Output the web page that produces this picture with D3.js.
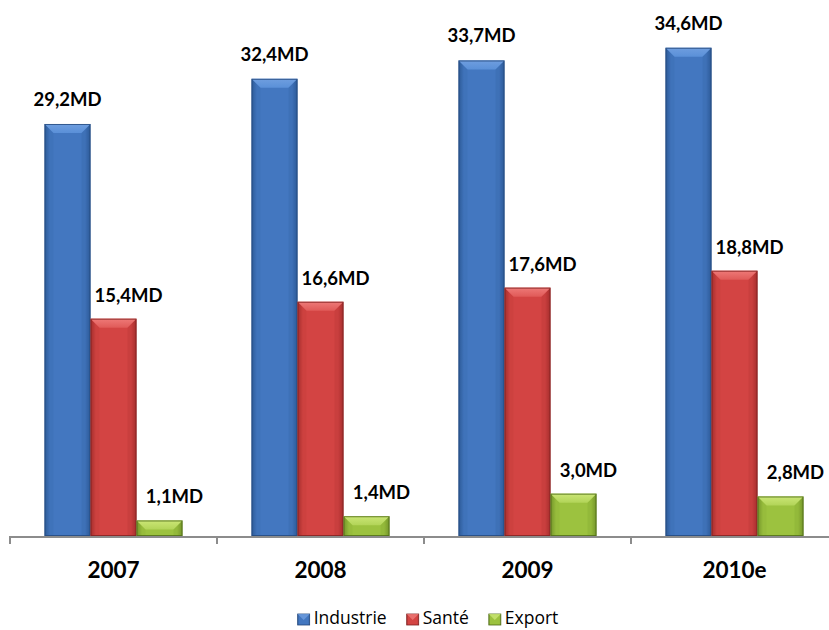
<!DOCTYPE html>
<html><head><meta charset="utf-8">
<script src="https://cdn.jsdelivr.net/npm/d3@7"></script>
<style>
html,body{margin:0;padding:0;background:#fff;}
svg{display:block;}
</style></head>
<body>
<svg id="chart" width="829" height="630"></svg>
<script>
const years = ["2007", "2008", "2009", "2010e"];
const seriesNames = ["Industrie", "Santé", "Export"];
const industrie = [29.2, 32.4, 33.7, 34.6];
const sante = [15.4, 16.6, 17.6, 18.8];
const exportV = [1.1, 1.4, 3.0, 2.8];
const valueLabels = [
  ["29,2MD", "32,4MD", "33,7MD", "34,6MD"],
  ["15,4MD", "16,6MD", "17,6MD", "18,8MD"],
  ["1,1MD", "1,4MD", "3,0MD", "2,8MD"]
];
const seriesValues = [industrie, sante, exportV];

const palette = [
  {base:"#4377C0", light:"#6F9EDF", dark:"#2D5A98", edge:"#24487C", top:"#5A90D8"},
  {base:"#D34443", light:"#EE7A78", dark:"#A52E2D", edge:"#7F2221", top:"#E05A58"},
  {base:"#9CC23F", light:"#CBE676", dark:"#74952A", edge:"#4E6A18", top:"#B2D458"}
];

const svg = d3.select("#chart");
const W = 829, H = 630;
const baseY = 536;

const x0 = d3.scaleBand().domain(years).range([10, 838]).paddingInner(1/3).paddingOuter(1/6);
const x1 = d3.scaleBand().domain(seriesNames).range([0, x0.bandwidth()]);
const y = d3.scaleLinear().domain([0, 38]).range([baseY, baseY - 38 * 14.11]);

const defs = svg.append("defs");
palette.forEach((p, i) => {
  const g = defs.append("linearGradient").attr("id", "side" + i).attr("x1", 0).attr("x2", 1).attr("y1", 0).attr("y2", 0);
  g.append("stop").attr("offset", "0%").attr("stop-color", p.dark);
  g.append("stop").attr("offset", "12%").attr("stop-color", p.base);
  g.append("stop").attr("offset", "50%").attr("stop-color", p.base);
  g.append("stop").attr("offset", "88%").attr("stop-color", p.base);
  g.append("stop").attr("offset", "100%").attr("stop-color", p.dark);
  const t = defs.append("linearGradient").attr("id", "top" + i).attr("x1", 0).attr("x2", 0).attr("y1", 0).attr("y2", 1);
  t.append("stop").attr("offset", "0%").attr("stop-color", p.light);
  t.append("stop").attr("offset", "100%").attr("stop-color", p.top);
});

// axis
const axisG = svg.append("g");
axisG.append("line").attr("x1", 10).attr("x2", W).attr("y1", baseY + 1).attr("y2", baseY + 1)
  .attr("stroke", "#8C8C8C").attr("stroke-width", 2);
const tickXs = years.map(yr => x0(yr) - x0.step() * x0.paddingInner() / 2).concat([x0(years[3]) + x0.bandwidth() + x0.step() * x0.paddingInner() / 2]);
axisG.selectAll("line.tick").data(tickXs).enter().append("line").attr("class", "tick")
  .attr("x1", d => d).attr("x2", d => d).attr("y1", baseY).attr("y2", baseY + 8)
  .attr("stroke", "#8C8C8C").attr("stroke-width", 2);

const bev = 9;
seriesNames.forEach((s, si) => {
  const g = svg.append("g");
  years.forEach((yr, yi) => {
    const v = seriesValues[si][yi];
    const bx = x0(yr) + x1(s), bw = x1.bandwidth();
    const ty = y(v), by = y(0);
    const b = Math.min(bev, (by - ty) * 0.6);
    g.append("rect").attr("x", bx).attr("y", ty).attr("width", bw).attr("height", by - ty)
      .attr("fill", `url(#side${si})`);
    g.append("path").attr("d", `M${bx},${ty}L${bx + bw},${ty}L${bx + bw - b},${ty + b}L${bx + b},${ty + b}Z`)
      .attr("fill", `url(#top${si})`);
    g.append("path").attr("d", `M${bx},${ty}L${bx + b},${ty + b}L${bx + b},${by}L${bx},${by}Z`)
      .attr("fill", palette[si].dark).attr("opacity", 0.12);
    g.append("path").attr("d", `M${bx + bw},${ty}L${bx + bw - b},${ty + b}L${bx + bw - b},${by}L${bx + bw},${by}Z`)
      .attr("fill", palette[si].dark).attr("opacity", 0.2);
    g.append("rect").attr("x", bx + 0.5).attr("y", ty + 0.5).attr("width", bw - 1).attr("height", by - ty - 1)
      .attr("fill", "none").attr("stroke", palette[si].edge).attr("stroke-width", 1).attr("opacity", 0.8);
    const off = si === 0 ? 0 : 15;
    const gap = si === 0 ? 18 : 17;
    svg.append("text").attr("x", bx + bw / 2 + off).attr("y", ty - gap)
      .attr("text-anchor", "middle").attr("font-family", "Lato, sans-serif").attr("font-weight", "bold")
      .attr("font-size", 18.5).attr("fill", "#000").text(valueLabels[si][yi]);
  });
});

// year labels
svg.selectAll("text.year").data(years).enter().append("text").attr("class", "year")
  .attr("x", d => x0(d) + x0.bandwidth() / 2).attr("y", 578)
  .attr("text-anchor", "middle").attr("font-family", "Lato, sans-serif").attr("font-weight", "bold")
  .attr("font-size", 22.5).attr("fill", "#000").text(d => d);

// legend
const leg = svg.append("g");
let lx = 0;
seriesNames.forEach((s, i) => {
  const it = leg.append("g").attr("transform", `translate(${lx},0)`);
  it.append("rect").attr("x", 0).attr("y", 614).attr("width", 12).attr("height", 11).attr("fill", `url(#side${i})`)
    .attr("stroke", palette[i].edge).attr("stroke-width", 0.8);
  it.append("path").attr("d", `M0,614L12,614L6,620Z`).attr("fill", palette[i].light).attr("opacity", 0.8);
  const t = it.append("text").attr("x", 16).attr("y", 624).attr("font-family", "'Open Sans', sans-serif")
    .attr("font-size", 17.5).attr("fill", "#000").text(s);
  const tw = t.node().getComputedTextLength();
  lx += 16 + tw + 20;
});
const legW = lx - 20;
leg.attr("transform", `translate(${428 - legW / 2},0)`);
</script>
</body></html>
